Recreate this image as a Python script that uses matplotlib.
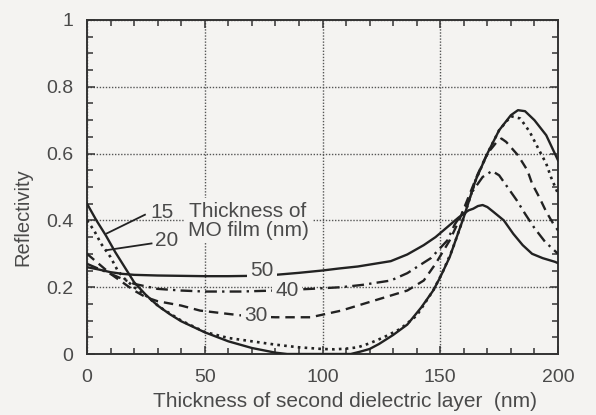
import matplotlib.pyplot as plt
from matplotlib.ticker import MultipleLocator

plt.rcParams['font.family'] = ['Liberation Sans', 'DejaVu Sans']

# Espesor de la segunda capa dieléctrica (nm) y reflectividad, por espesor de película MO
x15 = [0, 4, 8, 12, 16, 20, 25, 30, 35, 40, 50, 60, 70, 80, 85, 95, 105, 112, 116, 120, 124,
       130, 136, 142, 147, 150, 154, 157, 160, 165, 170, 175, 180, 183, 186, 190, 195, 200]
r15 = [0.45, 0.40, 0.355, 0.305, 0.26, 0.215, 0.177, 0.145, 0.12, 0.098, 0.065, 0.038, 0.018,
       0.004, 0.0, 0.0, 0.0, 0.0, 0.007, 0.015, 0.03, 0.057, 0.088, 0.14, 0.19, 0.23, 0.29,
       0.35, 0.41, 0.52, 0.60, 0.67, 0.715, 0.73, 0.727, 0.70, 0.655, 0.58]

x20 = [0, 3, 6, 10, 13, 16, 20, 25, 31, 40, 50, 60, 70, 80, 90, 100, 105, 110, 115, 120, 126,
       133, 140, 147, 151, 155, 160, 165, 170, 175, 180, 184, 188, 192, 195, 197, 200]
r20 = [0.40, 0.37, 0.33, 0.29, 0.25, 0.225, 0.20, 0.175, 0.14, 0.10, 0.066, 0.048, 0.038, 0.028,
       0.02, 0.015, 0.014, 0.016, 0.02, 0.032, 0.05, 0.075, 0.115, 0.19, 0.245, 0.31, 0.41,
       0.52, 0.60, 0.67, 0.712, 0.705, 0.665, 0.61, 0.57, 0.53, 0.48]

x30 = [0, 5, 10, 15, 20, 25, 30, 40, 48, 60, 70, 80, 95, 108, 122, 136, 143, 148, 154, 158,
       162, 166, 170, 174, 176, 178, 183, 187, 189, 192, 195, 198, 200]
r30 = [0.30, 0.27, 0.24, 0.215, 0.19, 0.17, 0.158, 0.145, 0.13, 0.12, 0.112, 0.11, 0.11, 0.13,
       0.16, 0.19, 0.22, 0.27, 0.34, 0.40, 0.47, 0.54, 0.60, 0.635, 0.645, 0.635, 0.595, 0.55,
       0.51, 0.47, 0.426, 0.39, 0.37]

x40 = [0, 5, 10, 15, 20, 30, 40, 50, 65, 80, 95, 108, 117, 129, 136, 146, 153, 156, 160, 164,
       168, 172, 175, 178, 182.5, 186, 190, 194.5, 200]
r40 = [0.27, 0.255, 0.24, 0.225, 0.21, 0.195, 0.19, 0.187, 0.187, 0.19, 0.195, 0.2, 0.207,
       0.22, 0.242, 0.287, 0.34, 0.386, 0.43, 0.49, 0.53, 0.548, 0.535, 0.505, 0.46, 0.42,
       0.377, 0.336, 0.30]

x50 = [0, 5, 10, 15, 20, 30, 40, 50, 60, 70, 80, 90, 100, 107, 115, 122, 129, 136, 143, 148,
       153, 158, 162, 164, 166, 168, 170, 172.5, 177, 181, 185, 189, 193.5, 198.7, 200]
r50 = [0.26, 0.253, 0.245, 0.24, 0.237, 0.235, 0.234, 0.233, 0.233, 0.234, 0.237, 0.243, 0.25,
       0.256, 0.262, 0.27, 0.278, 0.298, 0.326, 0.35, 0.38, 0.41, 0.43, 0.435, 0.443, 0.446,
       0.44, 0.426, 0.40, 0.36, 0.326, 0.30, 0.287, 0.276, 0.272]

fondo = '#f4f3f1'
negro = '#222222'
gris = '#4a4a4a'

fig = plt.figure(figsize=(5.96, 4.15), dpi=100, facecolor=fondo)
ax = fig.add_axes([87 / 596, 1 - 354 / 415, 471 / 596, 334 / 415], facecolor=fondo)

ax.plot(x15, r15, '-', color=negro, lw=1.7, zorder=3)
ax.plot(x20, r20, color=negro, lw=1.9, dashes=(1, 1.6), zorder=3)
ax.plot(x30, r30, color=negro, lw=1.7, dashes=(4, 2.5), zorder=3)
ax.plot(x40, r40, color=negro, lw=1.7, dashes=(5, 2.2, 1, 2.2), zorder=3)
ax.plot(x50, r50, '-', color=negro, lw=1.7, zorder=3)

# Etiquetas de las curvas
caja = dict(facecolor=fondo, edgecolor='none', pad=2.5)
fs = 15
ax.text(74.3, 0.251, '50', ha='center', va='center', fontsize=fs, color=gris, bbox=caja, zorder=4)
ax.text(85, 0.19, '40', ha='center', va='center', fontsize=fs, color=gris, bbox=caja, zorder=4)
ax.text(71.8, 0.114, '30', ha='center', va='center', fontsize=fs, color=gris, bbox=caja, zorder=4)
ax.text(31.8, 0.425, '15', ha='center', va='center', fontsize=fs, color=gris, zorder=4)
ax.text(34, 0.341, '20', ha='center', va='center', fontsize=fs, color=gris, bbox=caja, zorder=4)
ax.text(68.4, 0.428, 'Thickness of', ha='center', va='center', fontsize=fs, color=gris, bbox=caja, zorder=4)
ax.text(68.7, 0.371, 'MO film (nm)', ha='center', va='center', fontsize=fs, color=gris, bbox=caja, zorder=4)
ax.plot([24.6, 8.4], [0.417, 0.361], '-', color=negro, lw=1.3, zorder=4)
ax.plot([27.4, 8.4], [0.331, 0.311], '-', color=negro, lw=1.3, zorder=4)

ax.set_xlim(0, 200)
ax.set_ylim(0, 1)
ax.xaxis.set_major_locator(MultipleLocator(50))
ax.xaxis.set_minor_locator(MultipleLocator(10))
ax.yaxis.set_major_locator(MultipleLocator(0.2))
ax.yaxis.set_minor_locator(MultipleLocator(0.05))
ax.set_xticks([0, 50, 100, 150, 200])
ax.set_xticklabels(['0', '50', '100', '150', '200'])
ax.set_yticks([0, 0.2, 0.4, 0.6, 0.8, 1])
ax.set_yticklabels(['0', '0.2', '0.4', '0.6', '0.8', '1'])
ax.tick_params(which='both', direction='in', top=True, right=True, color='#333333', width=1.1,
               labelsize=14, labelcolor=gris)
ax.tick_params(which='major', length=5.5)
ax.tick_params(which='minor', length=4)
ax.tick_params(axis='y', pad=10)
ax.tick_params(axis='x', pad=11)
ax.grid(True, which='major', color='#555555', lw=1.0, linestyle=(0, (1, 1.2)))
for s in ax.spines.values():
    s.set_linewidth(1.4)
    s.set_color('#333333')

ax.set_xlabel('Thickness of second dielectric layer  (nm)', fontsize=15, color=gris)
ax.set_ylabel('Reflectivity', fontsize=14.5, color=gris)
ax.xaxis.set_label_coords(0.547, -0.115)
ax.yaxis.set_label_coords(-0.115, 0.41)

fig.savefig('out.png', dpi=100, facecolor=fondo)
